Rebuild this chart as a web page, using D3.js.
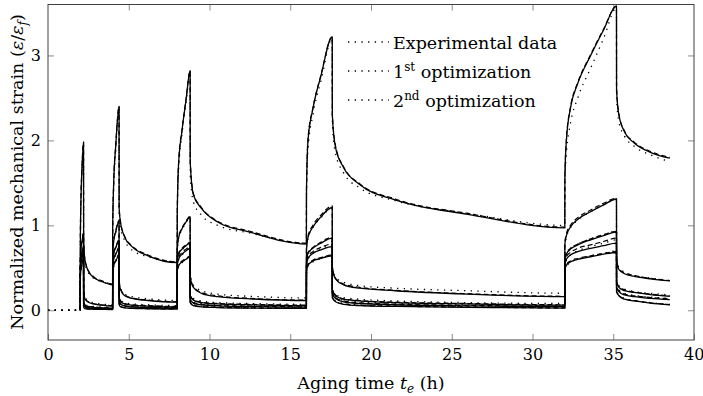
<!DOCTYPE html>
<html><head><meta charset="utf-8">
<script src="https://cdn.jsdelivr.net/npm/d3@7"></script>
<style>
body{margin:0;background:#fff}
svg{display:block}
text{font-family:"DejaVu Serif","Liberation Serif",serif;fill:#000}
</style>
</head><body>
<svg id="chart" width="703" height="396"></svg>
<script>
// ---- data (aging time in hours, normalized strain) ----
const timeH = [0, 2,
 2.005, 2.04, 2.1, 2.2,
 2.205, 2.28, 2.45, 2.8, 3.3, 4,
 4.005, 4.06, 4.2, 4.4,
 4.405, 4.5, 4.75, 5.2, 6.2, 8,
 8.005, 8.08, 8.3, 8.55, 8.8,
 8.805, 9.0, 9.5, 10.5, 12.5, 16,
 16.005, 16.1, 16.4, 16.9, 17.6,
 17.605, 17.8, 18.3, 19.3, 21.5, 26, 32,
 32.005, 32.1, 32.35, 32.8, 33.6, 34.4, 35.2,
 35.205, 35.35, 35.7, 36.3, 37.3, 38.5];

// Specimen A
const expA = [0, 0,
 0.8, 1.25, 1.62, 1.96,
 0.75, 0.57, 0.46, 0.38, 0.34, 0.31,
 0.9, 1.4, 1.9, 2.38,
 1.1, 0.96, 0.82, 0.71, 0.63, 0.57,
 1.1, 1.62, 2.08, 2.45, 2.8,
 1.6, 1.28, 1.12, 1.0, 0.91, 0.79,
 1.35, 1.9, 2.3, 2.7, 3.2,
 2.2, 1.85, 1.62, 1.44, 1.29, 1.14, 1.0,
 1.5, 1.85, 2.2, 2.5, 2.85, 3.2, 3.56,
 2.5, 2.22, 2.05, 1.93, 1.83, 1.75];
const opt1A = [null, 0,
 0.85, 1.3, 1.65, 1.98,
 0.8, 0.6, 0.48, 0.39, 0.34, 0.30,
 0.95, 1.45, 1.95, 2.4,
 1.2, 1.02, 0.86, 0.75, 0.64, 0.56,
 1.15, 1.7, 2.12, 2.48, 2.82,
 1.75, 1.36, 1.2, 1.04, 0.92, 0.78,
 1.4, 2.0, 2.37, 2.76, 3.22,
 2.3, 1.92, 1.68, 1.48, 1.3, 1.13, 0.97,
 1.55, 2.0, 2.38, 2.67, 3.0, 3.3, 3.58,
 2.6, 2.3, 2.1, 1.97, 1.86, 1.79];
const opt2A = [null, 0,
 0.87, 1.32, 1.66, 1.98,
 0.82, 0.61, 0.49, 0.4, 0.35, 0.31,
 0.97, 1.47, 1.96, 2.4,
 1.22, 1.03, 0.87, 0.76, 0.65, 0.57,
 1.17, 1.72, 2.13, 2.49, 2.82,
 1.78, 1.38, 1.21, 1.05, 0.93, 0.79,
 1.42, 2.02, 2.38, 2.77, 3.22,
 2.32, 1.94, 1.69, 1.49, 1.31, 1.14, 0.98,
 1.57, 2.02, 2.39, 2.68, 3.01, 3.31, 3.58,
 2.62, 2.31, 2.11, 1.98, 1.87, 1.8];

// Specimen B
const expB = [0, 0,
 0.57, 0.7, 0.79, 0.9,
 0.27, 0.16, 0.12, 0.09, 0.075, 0.065,
 0.63, 0.78, 0.92, 1.05,
 0.35, 0.26, 0.19, 0.16, 0.135, 0.115,
 0.7, 0.84, 0.95, 1.03, 1.1,
 0.42, 0.3, 0.23, 0.19, 0.165, 0.145,
 0.7, 0.85, 0.97, 1.09, 1.2,
 0.52, 0.39, 0.33, 0.29, 0.26, 0.23, 0.2,
 0.75, 0.86, 0.97, 1.06, 1.16, 1.24, 1.3,
 0.62, 0.5, 0.45, 0.41, 0.38, 0.35];
const opt1B = [null, 0,
 0.6, 0.72, 0.8, 0.9,
 0.25, 0.14, 0.1, 0.075, 0.06, 0.05,
 0.66, 0.8, 0.93, 1.05,
 0.33, 0.24, 0.17, 0.14, 0.115, 0.095,
 0.72, 0.85, 0.96, 1.04, 1.1,
 0.4, 0.27, 0.2, 0.16, 0.135, 0.115,
 0.72, 0.86, 0.98, 1.1, 1.21,
 0.5, 0.37, 0.3, 0.26, 0.23, 0.19, 0.16,
 0.78, 0.88, 0.98, 1.07, 1.16, 1.24, 1.31,
 0.6, 0.48, 0.43, 0.4, 0.37, 0.345];
const opt2B = [null, 0,
 0.61, 0.73, 0.81, 0.91,
 0.26, 0.15, 0.105, 0.08, 0.065, 0.055,
 0.67, 0.81, 0.94, 1.06,
 0.34, 0.25, 0.18, 0.145, 0.12, 0.1,
 0.73, 0.86, 0.97, 1.05, 1.11,
 0.41, 0.28, 0.21, 0.17, 0.14, 0.12,
 0.73, 0.87, 1.0, 1.12, 1.23,
 0.51, 0.38, 0.31, 0.27, 0.235, 0.195, 0.165,
 0.8, 0.9, 1.0, 1.09, 1.18, 1.26, 1.32,
 0.61, 0.49, 0.44, 0.41, 0.375, 0.35];

// Specimen C
const expC = [0, 0,
 0.48, 0.58, 0.66, 0.74,
 0.12, 0.07, 0.055, 0.045, 0.04, 0.035,
 0.54, 0.64, 0.73, 0.81,
 0.17, 0.12, 0.09, 0.075, 0.065, 0.055,
 0.56, 0.64, 0.71, 0.76, 0.8,
 0.19, 0.14, 0.11, 0.09, 0.08, 0.07,
 0.56, 0.66, 0.73, 0.8, 0.86,
 0.26, 0.19, 0.15, 0.13, 0.11, 0.09, 0.08,
 0.58, 0.65, 0.72, 0.78, 0.84, 0.89, 0.93,
 0.35, 0.29, 0.25, 0.22, 0.2, 0.18];
const opt1C = [null, 0,
 0.5, 0.6, 0.67, 0.75,
 0.1, 0.06, 0.045, 0.035, 0.03, 0.025,
 0.56, 0.66, 0.74, 0.82,
 0.15, 0.1, 0.075, 0.06, 0.05, 0.04,
 0.58, 0.66, 0.72, 0.76, 0.79,
 0.17, 0.12, 0.09, 0.075, 0.065, 0.055,
 0.58, 0.67, 0.73, 0.79, 0.85,
 0.24, 0.17, 0.13, 0.11, 0.09, 0.075, 0.06,
 0.6, 0.66, 0.72, 0.77, 0.83, 0.88, 0.92,
 0.33, 0.27, 0.23, 0.21, 0.185, 0.165];
const opt2C = [null, 0,
 0.51, 0.61, 0.68, 0.76,
 0.11, 0.065, 0.05, 0.04, 0.032, 0.028,
 0.57, 0.67, 0.75, 0.83,
 0.16, 0.11, 0.08, 0.065, 0.055, 0.045,
 0.59, 0.67, 0.73, 0.77, 0.8,
 0.18, 0.125, 0.095, 0.08, 0.07, 0.06,
 0.59, 0.68, 0.74, 0.8, 0.86,
 0.25, 0.18, 0.135, 0.115, 0.095, 0.08, 0.065,
 0.61, 0.67, 0.73, 0.78, 0.84, 0.89, 0.93,
 0.34, 0.28, 0.24, 0.215, 0.19, 0.17];

// Specimen D
const expD = [0, 0,
 0.44, 0.53, 0.6, 0.66,
 0.08, 0.05, 0.038, 0.03, 0.025, 0.022,
 0.48, 0.57, 0.65, 0.72,
 0.12, 0.08, 0.06, 0.05, 0.042, 0.036,
 0.51, 0.59, 0.65, 0.7, 0.74,
 0.14, 0.1, 0.078, 0.065, 0.056, 0.05,
 0.51, 0.6, 0.67, 0.72, 0.77,
 0.22, 0.16, 0.12, 0.1, 0.085, 0.07, 0.06,
 0.53, 0.59, 0.65, 0.7, 0.75, 0.79, 0.83,
 0.29, 0.24, 0.2, 0.175, 0.155, 0.14];
const opt1D = [null, 0,
 0.46, 0.55, 0.61, 0.67,
 0.07, 0.04, 0.03, 0.022, 0.018, 0.015,
 0.5, 0.59, 0.66, 0.73,
 0.11, 0.07, 0.05, 0.04, 0.033, 0.027,
 0.53, 0.6, 0.66, 0.7, 0.73,
 0.13, 0.085, 0.065, 0.052, 0.044, 0.038,
 0.53, 0.61, 0.67, 0.71, 0.75,
 0.2, 0.14, 0.1, 0.08, 0.065, 0.052, 0.042,
 0.55, 0.6, 0.65, 0.69, 0.73, 0.76, 0.79,
 0.27, 0.22, 0.18, 0.16, 0.14, 0.125];
const opt2D = [null, 0,
 0.47, 0.56, 0.62, 0.68,
 0.075, 0.045, 0.033, 0.025, 0.02, 0.017,
 0.51, 0.6, 0.67, 0.74,
 0.115, 0.075, 0.055, 0.044, 0.036, 0.03,
 0.54, 0.62, 0.68, 0.72, 0.75,
 0.135, 0.09, 0.07, 0.056, 0.048, 0.041,
 0.54, 0.63, 0.69, 0.74, 0.78,
 0.21, 0.15, 0.11, 0.088, 0.072, 0.058, 0.047,
 0.57, 0.63, 0.68, 0.73, 0.77, 0.81, 0.85,
 0.28, 0.23, 0.19, 0.17, 0.15, 0.135];

// Specimen E
const expE = [0, 0,
 0.38, 0.46, 0.53, 0.59,
 0.05, 0.028, 0.02, 0.016, 0.013, 0.011,
 0.42, 0.5, 0.57, 0.64,
 0.08, 0.048, 0.034, 0.027, 0.022, 0.019,
 0.44, 0.51, 0.56, 0.6, 0.63,
 0.1, 0.065, 0.048, 0.038, 0.031, 0.026,
 0.44, 0.52, 0.57, 0.61, 0.65,
 0.16, 0.11, 0.08, 0.063, 0.052, 0.041, 0.032,
 0.46, 0.52, 0.56, 0.6, 0.64, 0.67, 0.7,
 0.23, 0.18, 0.14, 0.115, 0.09, 0.07];
const opt1E = [null, 0,
 0.4, 0.48, 0.54, 0.6,
 0.04, 0.02, 0.015, 0.012, 0.01, 0.008,
 0.44, 0.52, 0.58, 0.65,
 0.07, 0.04, 0.028, 0.022, 0.018, 0.015,
 0.46, 0.52, 0.57, 0.6, 0.63,
 0.09, 0.055, 0.04, 0.032, 0.026, 0.022,
 0.46, 0.53, 0.58, 0.61, 0.64,
 0.15, 0.1, 0.07, 0.055, 0.045, 0.035, 0.025,
 0.48, 0.53, 0.57, 0.6, 0.63, 0.66, 0.68,
 0.22, 0.17, 0.13, 0.11, 0.085, 0.065];
const opt2E = [null, 0,
 0.41, 0.49, 0.55, 0.61,
 0.045, 0.024, 0.017, 0.014, 0.011, 0.009,
 0.45, 0.53, 0.59, 0.66,
 0.075, 0.044, 0.031, 0.024, 0.02, 0.016,
 0.47, 0.53, 0.58, 0.61, 0.64,
 0.095, 0.06, 0.044, 0.035, 0.028, 0.024,
 0.47, 0.54, 0.59, 0.62, 0.65,
 0.155, 0.105, 0.075, 0.058, 0.048, 0.038, 0.028,
 0.49, 0.54, 0.58, 0.61, 0.64, 0.67, 0.69,
 0.225, 0.175, 0.135, 0.113, 0.088, 0.067];

const xTicks = [0, 5, 10, 15, 20, 25, 30, 35, 40];
const yTicks = [0, 1, 2, 3];
const legendLabels = [["Experimental data", ""], ["1", "st"], ["2", "nd"]];

// ---- drawing ----
const FONT = "'DejaVu Serif','Liberation Serif',serif";
const svg = d3.select("#chart").attr("font-family", FONT);
const L = 48, R = 694, T = 4.5, B = 340;
const x = d3.scaleLinear().domain([0, 40]).range([L, R]);
const y = d3.scaleLinear().domain([-0.35, 3.6]).range([B, T]);

svg.append("defs").append("clipPath").attr("id", "clip")
  .append("rect").attr("x", L).attr("y", T).attr("width", R - L).attr("height", B - T);

const tickColor = "#8a8a8a";
function styleAxis(g) {
  g.attr("font-family", FONT);
  g.select(".domain").remove();
  g.selectAll(".tick line").attr("stroke", tickColor).attr("stroke-width", 1);
  g.selectAll(".tick text").style("font-size", "16px").style("font-family", FONT).attr("fill", "#000");
}
const xAxisG = svg.append("g").attr("transform", `translate(0,${B})`)
  .call(d3.axisBottom(x).tickValues(xTicks).tickSizeInner(-6).tickSizeOuter(0).tickPadding(9).tickFormat(d3.format("d")))
  .call(styleAxis);
// keep the last label inside the picture
xAxisG.selectAll(".tick text").filter(d => d === xTicks[xTicks.length - 1])
  .attr("text-anchor", "end").attr("dx", "0.62em");
svg.append("g").attr("transform", `translate(0,${T})`)
  .call(d3.axisTop(x).tickValues(xTicks.slice(1, -1)).tickSizeInner(-6).tickSizeOuter(0).tickFormat(""))
  .call(styleAxis);
svg.append("g").attr("transform", `translate(${L},0)`)
  .call(d3.axisLeft(y).tickValues(yTicks).tickSizeInner(-6).tickSizeOuter(0).tickPadding(7).tickFormat(d3.format("d")))
  .call(styleAxis);
svg.append("g").attr("transform", `translate(${R},0)`)
  .call(d3.axisRight(y).tickValues(yTicks).tickSizeInner(-6).tickSizeOuter(0).tickFormat(""))
  .call(styleAxis);

// curves
const specimens = [
  [expA, opt1A, opt2A], [expB, opt1B, opt2B], [expC, opt1C, opt2C],
  [expD, opt1D, opt2D], [expE, opt1E, opt2E]
];
const line = d3.line()
  .defined(d => d[1] !== null)
  .x(d => x(d[0])).y(d => y(d[1]))
  .curve(d3.curveMonotoneX);
const pts = arr => timeH.map((t, i) => [t, arr[i]]);

const plot = svg.append("g").attr("clip-path", "url(#clip)");
const styles = [
  {dash: "1.3,5.4", w: 1.3},   // experimental (dotted)
  {dash: null, w: 1.3},        // 1st optimization (solid)
  {dash: "5,3", w: 1.2}        // 2nd optimization (dashed)
];
[1, 2, 0].forEach(k => {
  specimens.forEach(sp => {
    plot.append("path")
      .attr("d", line(pts(sp[k])))
      .attr("fill", "none")
      .attr("stroke", "#000")
      .attr("stroke-width", styles[k].w)
      .attr("stroke-dasharray", styles[k].dash)
      .attr("stroke-linejoin", "round");
  });
});

// frame
svg.append("rect").attr("x", L).attr("y", T).attr("width", R - L).attr("height", B - T)
  .attr("fill", "none").attr("stroke", "#404040").attr("stroke-width", 1);

// legend
const lg = svg.append("g");
legendLabels.forEach((lab, i) => {
  const yy = 42 + i * 29;
  lg.append("line").attr("x1", 348).attr("x2", 389).attr("y1", yy).attr("y2", yy)
    .attr("stroke", "#000").attr("stroke-width", 1.3).attr("stroke-dasharray", "1.3,5.4");
  const t = lg.append("text").attr("x", 393).attr("y", yy + 7).style("font-size", "17.5px");
  if (i === 0) {
    t.text(lab[0]);
  } else {
    t.append("tspan").text(lab[0]);
    t.append("tspan").attr("dy", -7).style("font-size", "12px").text(lab[1]);
    t.append("tspan").attr("dy", 7).text(" optimization");
  }
});

// axis labels
const xl = svg.append("text").attr("x", (L + R) / 2).attr("y", 389)
  .attr("text-anchor", "middle").style("font-size", "17.5px");
xl.append("tspan").text("Aging time ");
xl.append("tspan").style("font-style", "italic").text("t");
xl.append("tspan").attr("dy", 4).style("font-size", "12px").style("font-style", "italic").text("e");
xl.append("tspan").attr("dy", -4).text(" (h)");

const yl = svg.append("text").attr("transform", "translate(23,172) rotate(-90)")
  .attr("text-anchor", "middle").style("font-size", "17.5px");
yl.append("tspan").text("Normalized mechanical strain (");
yl.append("tspan").style("font-style", "italic").text("ε");
yl.append("tspan").text("/");
yl.append("tspan").style("font-style", "italic").text("ε");
yl.append("tspan").attr("dy", 4).style("font-size", "12px").style("font-style", "italic").text("f");
yl.append("tspan").attr("dy", -4).text(")");
</script>
</body></html>
